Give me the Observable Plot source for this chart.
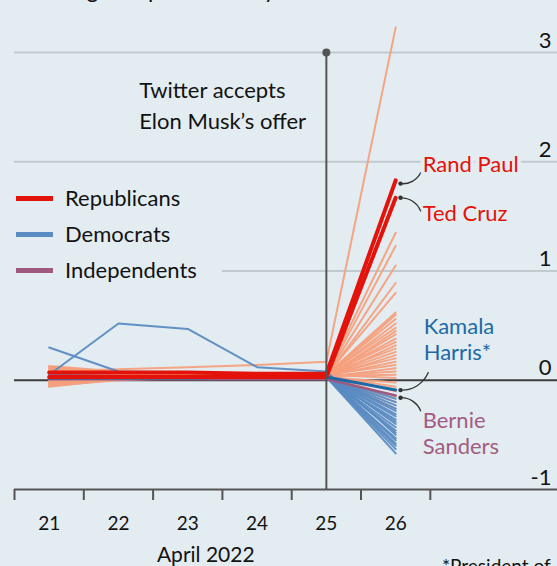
<!DOCTYPE html>
<html>
<head>
<meta charset="utf-8">
<script src="https://cdn.jsdelivr.net/npm/d3@7"></script>
<script src="https://cdn.jsdelivr.net/npm/@observablehq/plot@0.6"></script>
<style>
  html, body { margin: 0; padding: 0; background: #e3ecf1; overflow: hidden; }
  #wrap { position: relative; width: 557px; height: 566px; font-family: Lato, sans-serif; color: #121212; }
  #subtitle { position: absolute; left: 14px; top: -22px; font-size: 23px; line-height: 23px; white-space: nowrap; }
  #legend { position: absolute; left: 0; top: 184px; width: 215px; }
  .item { position: relative; height: 36px; }
  .sw { position: absolute; left: 16px; top: 12px; width: 37px; height: 5px; }
  .lab { position: absolute; left: 65px; top: 0; font-size: 22px; line-height: 28px; }
  #caption { position: absolute; left: 442px; top: 554px; font-size: 19px; line-height: 24px; white-space: nowrap; }
  svg { position: absolute; left: 0; top: 0; }
</style>
</head>
<body>
<div id="wrap">
  <div id="chart"></div>
  <div id="subtitle">% change on previous day</div>
  <div id="legend"></div>
  <div id="caption">*President of<br>the Senate</div>
</div>
<script>
// ---------- data ----------
const days = [21, 22, 23, 24, 25, 26];
const xTickLabels = ["21", "22", "23", "24", "25", "26"];
const yTicks = [3, 2, 1, 0, -1];
const legendParties = ["Republicans", "Democrats", "Independents"];

// values for days 21..26, % change on previous day
const randPaul = [0.07, 0.07, 0.07, 0.06, 0.06, 1.83];
const tedCruz = [0.03, 0.03, 0.03, 0.03, 0.03, 1.67];
const kamalaHarris = [0.02, 0.02, 0.02, 0.03, 0.03, -0.09];
const bernieSanders = [0.01, 0.01, 0.01, 0.01, 0.01, -0.14];

const otherRepublicans = [
  [0.08, 0.10, 0.12, 0.14, 0.17, 3.23],
  [0.12, 0.07, 0.06, 0.05, 0.05, 1.35],
  [-0.04, 0.02, 0.03, 0.04, 0.04, 1.23],
  [0.10, 0.06, 0.05, 0.05, 0.04, 1.05],
  [-0.05, 0.01, 0.03, 0.03, 0.04, 0.89],
  [0.06, 0.05, 0.05, 0.05, 0.05, 0.80],
  [0.13, 0.08, 0.06, 0.05, 0.05, 0.62],
  [-0.03, 0.02, 0.03, 0.04, 0.04, 0.60],
  [0.09, 0.06, 0.05, 0.05, 0.05, 0.56],
  [0.00, 0.03, 0.04, 0.04, 0.04, 0.52],
  [0.11, 0.07, 0.06, 0.05, 0.05, 0.48],
  [-0.06, 0.01, 0.02, 0.03, 0.03, 0.45],
  [0.07, 0.05, 0.05, 0.04, 0.04, 0.42],
  [0.02, 0.03, 0.04, 0.04, 0.04, 0.38],
  [0.10, 0.06, 0.05, 0.05, 0.05, 0.35],
  [-0.02, 0.02, 0.03, 0.03, 0.03, 0.32],
  [0.05, 0.05, 0.05, 0.05, 0.05, 0.29],
  [0.12, 0.07, 0.05, 0.05, 0.04, 0.26],
  [-0.04, 0.01, 0.02, 0.03, 0.03, 0.23],
  [0.08, 0.06, 0.05, 0.05, 0.05, 0.20],
  [0.03, 0.04, 0.04, 0.04, 0.04, 0.17],
  [0.11, 0.06, 0.05, 0.05, 0.05, 0.14],
  [-0.05, 0.00, 0.02, 0.03, 0.03, 0.11],
  [0.06, 0.05, 0.04, 0.04, 0.04, 0.08],
  [0.01, 0.03, 0.04, 0.04, 0.04, 0.05],
  [0.09, 0.06, 0.05, 0.05, 0.05, 0.02],
  [-0.03, 0.02, 0.03, 0.03, 0.03, -0.02],
  [0.04, 0.04, 0.04, 0.04, 0.04, -0.06],
  [0.07, 0.05, 0.05, 0.05, 0.05, -0.10],
  [-0.01, 0.02, 0.03, 0.04, 0.04, -0.15],
  [0.05, 0.04, 0.04, 0.04, 0.04, -0.20],
  [0.02, 0.03, 0.03, 0.04, 0.04, -0.26]
];

const otherDemocrats = [
  [0.30, 0.08, 0.07, 0.06, 0.05, -0.40],
  [0.05, 0.52, 0.47, 0.12, 0.08, -0.50],
  [0.03, 0.03, 0.03, 0.03, 0.03, -0.17],
  [0.02, 0.03, 0.03, 0.03, 0.03, -0.20],
  [0.04, 0.03, 0.03, 0.03, 0.03, -0.23],
  [0.02, 0.02, 0.03, 0.03, 0.03, -0.26],
  [0.03, 0.03, 0.02, 0.03, 0.03, -0.28],
  [0.04, 0.04, 0.03, 0.03, 0.03, -0.31],
  [0.02, 0.03, 0.03, 0.02, 0.03, -0.33],
  [0.03, 0.03, 0.03, 0.03, 0.02, -0.36],
  [0.05, 0.04, 0.03, 0.03, 0.03, -0.38],
  [0.02, 0.02, 0.02, 0.03, 0.03, -0.43],
  [0.03, 0.03, 0.03, 0.03, 0.03, -0.46],
  [0.04, 0.03, 0.03, 0.03, 0.03, -0.48],
  [0.02, 0.03, 0.03, 0.03, 0.03, -0.53],
  [0.03, 0.03, 0.03, 0.03, 0.03, -0.55],
  [0.03, 0.02, 0.03, 0.03, 0.03, -0.58],
  [0.04, 0.03, 0.03, 0.03, 0.03, -0.60],
  [0.02, 0.03, 0.03, 0.03, 0.03, -0.63],
  [0.03, 0.03, 0.03, 0.03, 0.03, -0.67]
];

const labels = [
  {text: "Rand Paul", color: "#e3120b"},
  {text: "Ted Cruz", color: "#e3120b"},
  {text: "Kamala\nHarris*", color: "#1a6aa6"},
  {text: "Bernie\nSanders", color: "#a45b81"}
];

// ---------- colours ----------
const C = {
  red: "#e3120b", repLight: "#f5a07d", dem: "#5a8bc2", harris: "#1b69a6", ind: "#a0587f",
  grid: "#c1cacf", dark: "#3d3d3d", axis: "#555555", bg: "#e3ecf1"
};

// ---------- build tables ----------
function toRows(group, rows) {
  const out = [];
  rows.forEach((r, i) => r.forEach((v, j) => out.push({group, id: group + i, day: days[j], value: v})));
  return out;
}
const repRows = toRows("rep", otherRepublicans);
const demRows = toRows("dem", otherDemocrats);
const randRows = toRows("rand", [randPaul]);
const cruzRows = toRows("cruz", [tedCruz]);
const harrisRows = toRows("harris", [kamalaHarris]);
const sandersRows = toRows("sanders", [bernieSanders]);

const last = a => a[a.length - 1];
const x0 = 20.5, x1 = 28.335;
const gridSegs = [{y: 3, from: x0}, {y: 2, from: x0}, {y: 1, from: 23.5}];
const tickPos = days.map(d => d - 0.5).concat([last(days) + 0.5]);

const chart = Plot.plot({
  width: 557, height: 566,
  marginLeft: 14, marginRight: 0, marginTop: 52, marginBottom: 77,
  x: {domain: [x0, x1], axis: null},
  y: {domain: [-1, 3], axis: null},
  style: {background: "transparent", fontFamily: "Lato, sans-serif", color: "#121212"},
  marks: [
    Plot.ruleY(gridSegs, {y: "y", x1: "from", x2: x1, stroke: C.grid, strokeWidth: 2}),
    Plot.ruleY([0], {x1: x0, x2: x1, stroke: C.dark, strokeWidth: 2}),
    Plot.ruleY([-1], {x1: x0, x2: x1, stroke: C.axis, strokeWidth: 2}),
    Plot.ruleX(tickPos, {x: d => d, y1: -1, y2: -1 - 11 / 109.25, stroke: C.axis, strokeWidth: 2}),
    Plot.line(repRows, {x: "day", y: "value", z: "id", stroke: C.repLight, strokeWidth: 2, strokeOpacity: 0.95}),
    Plot.line(demRows, {x: "day", y: "value", z: "id", stroke: C.dem, strokeWidth: 2, strokeOpacity: 0.95}),
    Plot.line(sandersRows, {x: "day", y: "value", stroke: C.ind, strokeWidth: 2.5}),
    Plot.line(harrisRows, {x: "day", y: "value", stroke: C.harris, strokeWidth: 3}),
    Plot.line(cruzRows, {x: "day", y: "value", stroke: C.red, strokeWidth: 4}),
    Plot.line(randRows, {x: "day", y: "value", stroke: C.red, strokeWidth: 4}),
    // event marker
    Plot.ruleX([25], {y1: -1, y2: 3, stroke: C.axis, strokeWidth: 2}),
    Plot.dot([25], {x: d => d, y: 3, r: 4, fill: C.axis}),
    Plot.text(["Twitter accepts\nElon Musk\u2019s offer"], {x: 22.3, y: 2.53, text: d => d, textAnchor: "start",
      lineAnchor: "middle", lineHeight: 1.42, fontSize: 22, fill: "#121212"}),
    // callouts
    Plot.arrow([[26.36, 1.90, 26.07, last(randPaul) - 0.03], [26.47, 0.07, 26.07, last(kamalaHarris)]],
      {x1: d => d[0], y1: d => d[1], x2: d => d[2], y2: d => d[3], bend: 35, headLength: 0, stroke: "#333", strokeWidth: 1.3}),
    Plot.arrow([[26.36, 1.55, 26.07, last(tedCruz)], [26.36, -0.28, 26.07, last(bernieSanders) - 0.02]],
      {x1: d => d[0], y1: d => d[1], x2: d => d[2], y2: d => d[3], bend: -35, headLength: 0, stroke: "#333", strokeWidth: 1.3}),
    Plot.dot([[26.07, last(randPaul) - 0.03], [26.07, last(tedCruz)], [26.07, last(kamalaHarris)], [26.07, last(bernieSanders) - 0.02]],
      {x: d => d[0], y: d => d[1], r: 2.2, fill: "#333"}),
    // labels
    Plot.text([labels[0]], {x: 26, y: 1.975, dx: 27, text: "text", fill: "color", textAnchor: "start", fontSize: 22,
      stroke: C.bg, strokeWidth: 8, paintOrder: "stroke"}),
    Plot.text([labels[1]], {x: 26, y: 1.52, dx: 27, text: "text", fill: "color", textAnchor: "start", fontSize: 22}),
    Plot.text([labels[2]], {x: 26, y: 0.382, dx: 28, text: "text", fill: "color", textAnchor: "start", fontSize: 22, lineHeight: 1.18}),
    Plot.text([labels[3]], {x: 26, y: -0.48, dx: 27, text: "text", fill: "color", textAnchor: "start", fontSize: 22, lineHeight: 1.18}),
    // y tick labels
    Plot.text(yTicks, {y: d => d, frameAnchor: "right", textAnchor: "end", lineAnchor: "bottom", dx: -6, dy: -5,
      text: d => String(d), fontSize: 22, fill: "#121212"}),
    // x tick labels
    Plot.text(days, {x: d => d, y: -1, dy: 34, text: (d, i) => xTickLabels[i], fontSize: 19, fill: "#121212"}),
    Plot.text(["April 2022"], {x: 23.26, y: -1, dy: 66, text: d => d, fontSize: 21, fill: "#121212"})
  ]
});
document.getElementById("chart").appendChild(chart);

// legend
const legendColors = [C.red, C.dem, C.ind];
const lg = document.getElementById("legend");
legendParties.forEach((p, i) => {
  const it = document.createElement("div");
  it.className = "item";
  it.innerHTML = `<div class="sw" style="background:${legendColors[i]}"></div><div class="lab">${p}</div>`;
  lg.appendChild(it);
});
</script>
</body>
</html>
